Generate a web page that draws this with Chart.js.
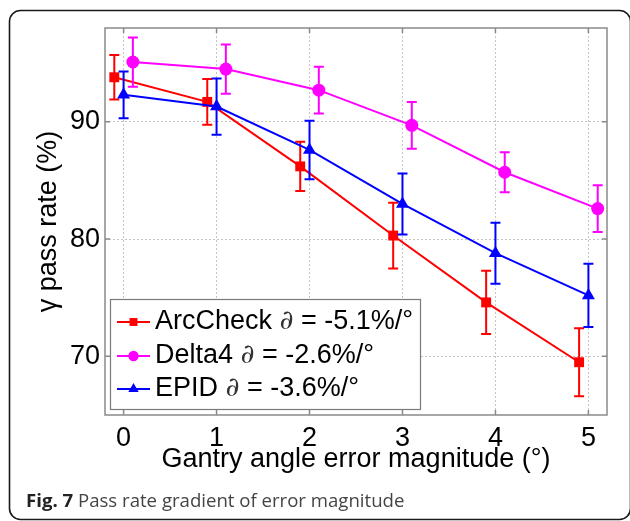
<!DOCTYPE html>
<html>
<head>
<meta charset="utf-8">
<script src="https://cdn.jsdelivr.net/npm/chart.js@4/dist/chart.umd.min.js"></script>
<style>
  html, body { margin: 0; padding: 0; background: #fff; }
  #wrap { width: 630px; height: 521px; }
</style>
</head>
<body>
<div id="wrap"><canvas id="chart" width="630" height="521"></canvas></div>
<script>
// chart data
const xTicks = [0, 1, 2, 3, 4, 5];
const yTicks = [70, 80, 90];
const seriesNames = ['ArcCheck', 'Delta4', 'EPID'];
const gradients = ['-5.1', '-2.6', '-3.6'];
const seriesColors = ['#ff0000', '#ff00ff', '#0000ff'];

const arcX = [-0.1, 0.9, 1.9, 2.9, 3.9, 4.9];
const arcY = [93.8, 91.7, 86.2, 80.3, 74.6, 69.5];
const arcErr = [1.9, 1.95, 2.1, 2.8, 2.7, 2.9];

const deltaX = [0.1, 1.1, 2.1, 3.1, 4.1, 5.1];
const deltaY = [95.1, 94.5, 92.7, 89.7, 85.7, 82.6];
const deltaErr = [2.1, 2.1, 2.0, 2.0, 1.7, 2.0];

const epidX = [0, 1, 2, 3, 4, 5];
const epidY = [92.3, 91.3, 87.6, 83.0, 78.8, 75.2];
const epidErr = [2.0, 2.4, 2.5, 2.6, 2.6, 2.7];

const xTitle = 'Gantry angle error magnitude (°)';
const yTitle = 'γ pass rate (%)';
const captionBold = 'Fig. 7';
const captionText = ' Pass rate gradient of error magnitude';

const FONT = '"Liberation Sans", Arial, sans-serif';
const errors = [arcErr, deltaErr, epidErr];
const pointStyles = ['rect', 'circle', 'triangle'];
const pointSizes = [7, 6.5, 7.5];

function toPoints(xs, ys) {
    return xs.map((x, i) => ({ x: x, y: ys[i] }));
}

// draws a marker like the chart does, used for the legend
function drawMarker(ctx, style, x, y, r, color) {
    ctx.save();
    ctx.fillStyle = color;
    ctx.beginPath();
    if (style === 'rect') {
        const s = r * Math.SQRT1_2;
        ctx.rect(x - s, y - s, 2 * s, 2 * s);
    } else if (style === 'circle') {
        ctx.arc(x, y, r, 0, Math.PI * 2);
    } else {
        ctx.moveTo(x, y - r);
        ctx.lineTo(x + r * Math.sin(Math.PI * 2 / 3), y + r * 0.5);
        ctx.lineTo(x - r * Math.sin(Math.PI * 2 / 3), y + r * 0.5);
        ctx.closePath();
    }
    ctx.fill();
    ctx.restore();
}

const errorBars = {
    id: 'errorBars',
    afterDatasetDraw(chart, args) {
        const ctx = chart.ctx;
        const xs = chart.scales.x, ys = chart.scales.y;
        const ds = chart.data.datasets[args.index];
        const err = errors[args.index];
        ctx.save();
        ctx.strokeStyle = ds.borderColor;
        ctx.lineWidth = 2;
        ds.data.forEach((p, i) => {
            const px = xs.getPixelForValue(p.x);
            const top = ys.getPixelForValue(p.y + err[i]);
            const bot = ys.getPixelForValue(p.y - err[i]);
            ctx.beginPath();
            ctx.moveTo(px, top); ctx.lineTo(px, bot);
            ctx.moveTo(px - 5, top); ctx.lineTo(px + 5, top);
            ctx.moveTo(px - 5, bot); ctx.lineTo(px + 5, bot);
            ctx.stroke();
        });
        ctx.restore();
    }
};

const decorations = {
    id: 'decorations',
    beforeDraw(chart) {
        const ctx = chart.ctx;
        ctx.save();
        ctx.fillStyle = '#fff';
        ctx.fillRect(0, 0, chart.width, chart.height);
        // outer figure frame with rounded corners
        ctx.strokeStyle = '#1a1a1a';
        ctx.lineWidth = 1.6;
        ctx.beginPath();
        ctx.roundRect(9.5, 10.5, 621, 509, 11);
        ctx.stroke();
        ctx.restore();
    },
    afterDraw(chart) {
        const ctx = chart.ctx;
        const a = chart.chartArea;
        const xs = chart.scales.x, ys = chart.scales.y;
        ctx.save();
        // axes box and inward tick marks
        ctx.strokeStyle = '#8a8a8a';
        ctx.lineWidth = 1.5;
        ctx.strokeRect(a.left, a.top, a.right - a.left, a.bottom - a.top);
        ctx.beginPath();
        xTicks.forEach(t => {
            const px = xs.getPixelForValue(t);
            ctx.moveTo(px, a.bottom); ctx.lineTo(px, a.bottom - 5);
            ctx.moveTo(px, a.top); ctx.lineTo(px, a.top + 5);
        });
        yTicks.forEach(t => {
            const py = ys.getPixelForValue(t);
            ctx.moveTo(a.left, py); ctx.lineTo(a.left + 5, py);
            ctx.moveTo(a.right, py); ctx.lineTo(a.right - 5, py);
        });
        ctx.stroke();

        // legend box
        const lx = 110, ly = 299, lw = 310, lh = 110;
        ctx.fillStyle = '#fff';
        ctx.fillRect(lx, ly, lw, lh);
        ctx.strokeStyle = '#7a7a7a';
        ctx.lineWidth = 1.2;
        ctx.strokeRect(lx + 0.5, ly + 0.5, lw, lh);
        const rowY = [322, 356, 389];
        seriesNames.forEach((name, i) => {
            const y = rowY[i];
            ctx.strokeStyle = seriesColors[i];
            ctx.lineWidth = 2;
            ctx.beginPath();
            ctx.moveTo(117, y); ctx.lineTo(150, y);
            ctx.stroke();
            drawMarker(ctx, pointStyles[i], 133.5, y, pointSizes[i] * 0.8, seriesColors[i]);
            ctx.fillStyle = '#000';
            ctx.textBaseline = 'middle';
            ctx.textAlign = 'left';
            let x = 155;
            ctx.font = '27px ' + FONT;
            const first = name + ' ';
            ctx.fillText(first, x, y);
            x += ctx.measureText(first).width;
            ctx.font = 'italic 300 27px "DejaVu Serif", serif';
            ctx.fillStyle = '#333';
            ctx.fillText('∂', x, y);
            x += ctx.measureText('∂').width;
            ctx.font = '27px ' + FONT;
            ctx.fillStyle = '#000';
            ctx.fillText(' = ' + gradients[i] + '%/°', x, y);
        });

        // caption
        ctx.textBaseline = 'alphabetic';
        ctx.font = 'bold 18.6px "Open Sans", sans-serif';
        ctx.fillStyle = '#222';
        ctx.fillText(captionBold, 26, 507);
        const bw = ctx.measureText(captionBold).width;
        ctx.font = '18.6px "Open Sans", sans-serif';
        ctx.fillStyle = '#444';
        ctx.fillText(captionText, 26 + bw, 507);
        ctx.restore();
    }
};

const datasets = [
    { label: seriesNames[0], data: toPoints(arcX, arcY), order: 3 },
    { label: seriesNames[1], data: toPoints(deltaX, deltaY), order: 2 },
    { label: seriesNames[2], data: toPoints(epidX, epidY), order: 1 }
].map((d, i) => Object.assign(d, {
    borderColor: seriesColors[i],
    backgroundColor: seriesColors[i],
    borderWidth: 2,
    pointStyle: pointStyles[i],
    pointRadius: pointSizes[i],
    pointBorderWidth: 0,
    showLine: true,
    tension: 0
}));

new Chart(document.getElementById('chart'), {
    type: 'scatter',
    data: { datasets: datasets },
    options: {
        responsive: false,
        animation: false,
        layout: { padding: { top: 28, right: 23, bottom: 45, left: 0 } },
        plugins: {
            legend: { display: false },
            tooltip: { enabled: false }
        },
        scales: {
            x: {
                type: 'linear',
                min: -0.2,
                max: 5.2,
                afterBuildTicks: scale => { scale.ticks = xTicks.map(v => ({ value: v })); },
                afterFit: scale => { scale.height = 61; },
                ticks: { color: '#000', padding: 7, font: { family: FONT, size: 27 } },
                grid: { color: '#c4c4c4', lineWidth: 1, drawTicks: false },
                border: { display: false, dash: [2, 2] },
                title: {
                    display: true,
                    text: xTitle,
                    color: '#000',
                    font: { family: FONT, size: 27 },
                    padding: { top: 0, bottom: 0 }
                }
            },
            y: {
                type: 'linear',
                min: 65,
                max: 98,
                afterBuildTicks: scale => { scale.ticks = yTicks.map(v => ({ value: v })); },
                afterFit: scale => { scale.width = 105; },
                ticks: { color: '#000', padding: 5, font: { family: FONT, size: 27 } },
                grid: { color: '#c4c4c4', lineWidth: 1, drawTicks: false },
                border: { display: false, dash: [2, 2] },
                title: {
                    display: true,
                    text: yTitle,
                    color: '#000',
                    font: { family: FONT, size: 27 },
                    padding: { top: 32, bottom: 0 }
                }
            }
        }
    },
    plugins: [errorBars, decorations]
});
</script>
</body>
</html>
